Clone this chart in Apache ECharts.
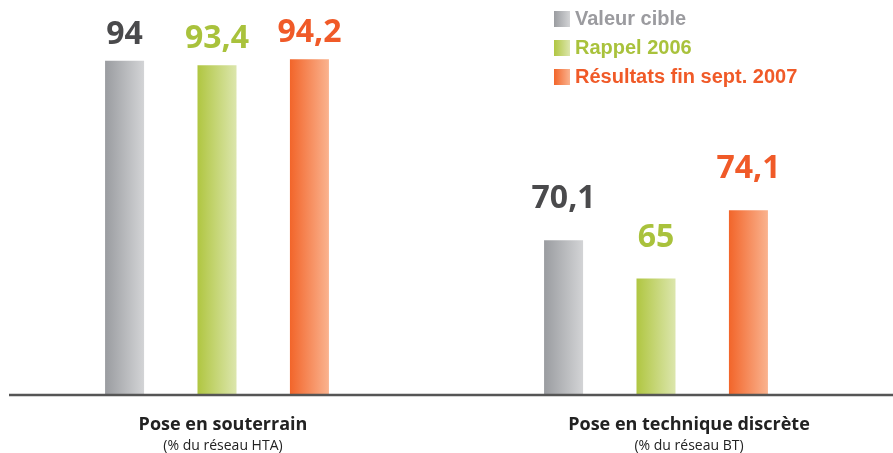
<html>
  <head>
    <meta http-equiv="Content-Type" content="text/html; charset=utf-8">
    <title>Pose en souterrain</title>
    <script src="https://cdn.jsdelivr.net/npm/echarts@6/dist/echarts.min.js"></script>
<style>
body{margin:0; height:100%; width:100%; overflow:hidden; background:#fff;}
#main{position:absolute; top:0; left:0; width:893px; height:453px;}
</style>
  </head>
<body>
  <div id="main"></div>
<script type="text/javascript">
  var categories = ['Pose en souterrain', 'Pose en technique discrète'];
  var subLabels = ['(% du réseau HTA)', '(% du réseau BT)'];
  var seriesNames = ['Valeur cible', 'Rappel 2006', 'Résultats fin sept. 2007'];
  var valeurCible = [94, 70.1];
  var rappel2006 = [93.4, 65];
  var resultats2007 = [94.2, 74.1];

  // couleurs : [debut, fin du degrade, chiffre, legende]
  var colors = [
    ['#9a9ca0', '#d3d4d6', '#4a4a4c', '#9b9b9f'],
    ['#b0c641', '#dce6ad', '#a9c23c', '#a9c23c'],
    ['#f2652a', '#fab38f', '#f05a28', '#f05a28']
  ];
  var labelGap = [10, 25];

  var myecharts = echarts.init(document.getElementById('main'));

  function grad(c) {
    return new echarts.graphic.LinearGradient(0, 0, 1, 0, [
      { offset: 0, color: c[0] },
      { offset: 1, color: c[1] }
    ]);
  }

  var series = [valeurCible, rappel2006, resultats2007].map(function (vals, i) {
    return {
      name: seriesNames[i],
      type: 'bar',
      barWidth: 39,
      barGap: '137%',
      itemStyle: { color: grad(colors[i]) },
      label: {
        show: true,
        position: 'top',
        color: colors[i][2],
        fontFamily: 'Open Sans',
        fontWeight: 'bold',
        fontSize: 32,
        formatter: function (p) { return String(p.value).replace('.', ','); }
      },
      data: vals.map(function (v, k) {
        return { value: v, label: { distance: labelGap[k] } };
      })
    };
  });

  var option = {
    backgroundColor: '#fff',
    animation: false,
    legend: {
      orient: 'vertical',
      left: 549,
      top: 4,
      itemWidth: 16,
      itemHeight: 16,
      itemGap: 9,
      icon: 'rect',
      textStyle: { fontFamily: 'Liberation Sans', fontWeight: 'bold', fontSize: 20 },
      data: seriesNames.map(function (n, i) {
        return { name: n, textStyle: { color: colors[i][3] } };
      })
    },
    grid: [
      { left: -2.5, right: 17.5, top: 21, bottom: 58, outerBoundsMode: 'none' },
      { left: -10, right: -29, top: 21, bottom: 58, outerBoundsMode: 'none' }
    ],
    xAxis: [{
      type: 'category',
      gridIndex: 0,
      data: categories,
      axisLine: { show: false },
      axisTick: { show: false },
      axisLabel: { show: false }
    }, {
      type: 'category',
      gridIndex: 1,
      data: categories,
      axisLine: { show: false },
      axisTick: { show: false },
      axisLabel: {
        margin: 19,
        formatter: function (v, i) {
          return '{a|' + v + '}\n{b|' + subLabels[i] + '}';
        },
        rich: {
          a: { fontFamily: 'Open Sans', fontWeight: 'bold', fontSize: 18, color: '#222', lineHeight: 22 },
          b: { fontFamily: 'Open Sans', fontSize: 14, color: '#222', lineHeight: 21 }
        }
      }
    }],
    yAxis: [
      { type: 'value', gridIndex: 0, min: 49.5, max: 99.3, show: false },
      { type: 'value', gridIndex: 1, min: 49.5, max: 99.3, show: false }
    ],
    graphic: [{
      type: 'line',
      shape: { x1: 9, y1: 395, x2: 893, y2: 395 },
      style: { stroke: '#555', lineWidth: 2.5 },
      z: 10
    }],
    series: series
  };

  myecharts.setOption(option);
</script>
  </body>
</html>
